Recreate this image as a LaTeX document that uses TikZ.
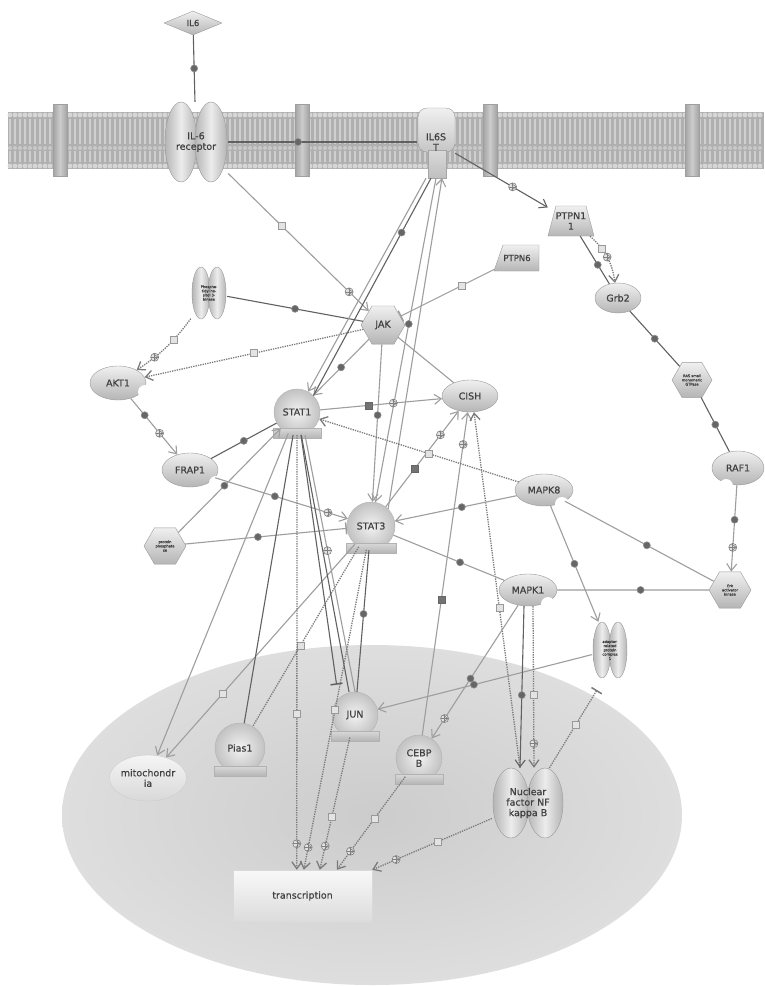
\documentclass[tikz,border=0pt]{standalone}
\usepackage{fontspec}
\setmainfont[FakeBold=0.6]{DejaVu Sans}
\usetikzlibrary{shapes.geometric,arrows.meta,calc}

% transcription-factor style node: ball with a base plate
\newcommand{\tfnode}[5]{%
  \node[tfball, minimum size=2*#4] (#1) at (#2,#3) {#5};
  \path[plate] (#2-#4-1,#3+#4-7) rectangle (#2+#4+1,#3+#4+3);
}
% two-lobed complex: [node options]{name}{x}{y}{lobe width}{height}{label}
\newcommand{\lobepair}[7][]{%
  \path[lobe] (#3-#5/2+1,#4) ellipse [x radius=#5/2, y radius=#6/2];
  \path[lobe] (#3+#5/2-1,#4) ellipse [x radius=#5/2, y radius=#6/2];
  \node[minimum width=2*#5, minimum height=#6, inner sep=0pt, #1] (#2) at (#3,#4) {#7};
}

\begin{document}
\begin{tikzpicture}[x=1pt,y=-1pt,
  every node/.style={font=\fontsize{9.5}{10.5}\selectfont, text=black!75, align=center},
  prot/.style={draw=black!40, top color=gray!12, bottom color=gray!58, inner sep=1pt},
  ellp/.style={prot, ellipse},
  hexa/.style={prot, regular polygon, regular polygon sides=6, inner sep=0pt},
  tfball/.style={circle, draw=black!30, inner color=gray!10, outer color=gray!48, inner sep=0pt},
  plate/.style={draw=black!30, top color=gray!30, bottom color=gray!58},
  lobe/.style={draw=black!40, left color=gray!58, right color=gray!58, middle color=gray!15},
  tinytxt/.style={font=\fontsize{3.6}{4.2}\selectfont},
  dk/.style={draw=black!62, line width=1.1pt},
  lt/.style={draw=black!38, line width=1.1pt},
  dt/.style={draw=black!52, line width=1.3pt, dash pattern=on 1.3pt off 1.1pt},
  arr/.style={-{Straight Barb[length=7pt,width=10pt]}},
  inh/.style={-{Bar[width=12pt,line width=1.5pt]}},
  markbase/.style={solid, line width=.6pt, inner sep=0pt},
  dotm/.style={markbase, circle, fill=black!60, draw=black!45, minimum size=7pt},
  sqm/.style={markbase, rectangle, fill=gray!22, draw=black!40, minimum size=7pt},
  sqd/.style={markbase, rectangle, fill=black!55, draw=black!60, minimum size=7pt},
  plm/.style={markbase, circle, fill=gray!22, draw=black!50, minimum size=8pt,
    path picture={\draw[black!50, line width=.6pt, solid]
      (path picture bounding box.north) -- (path picture bounding box.south)
      (path picture bounding box.west) -- (path picture bounding box.east);}},
]
\useasboundingbox (0,0) rectangle (764,986);
\fill[white] (0,0) rectangle (764,986);

% ---------- nucleus ----------
\shade[inner color=gray!40, outer color=gray!26] (372,815) ellipse [x radius=310, y radius=170];

% ---------- membrane ----------
\fill[gray!62] (8,112) rectangle (764,169);
\foreach \x in {10,15,...,762} {
  \draw[gray!38, line width=1.3pt] (\x,119) -- (\x,144);
  \draw[gray!38, line width=1.3pt] (\x,151) -- (\x,162);
  \fill[gray!32] (\x,115) circle (2.4);
  \fill[gray!42] (\x,148) circle (2.0);
  \fill[gray!32] (\x,166) circle (2.4);
}
\foreach \x in {60,302,490,692} {
  \path[draw=gray!75, left color=gray!72, right color=gray!72, middle color=gray!40]
    (\x-7,104) rectangle (\x+7,176);
}

% ---------- molecules ----------
\node[diamond, aspect=2.4, prot, minimum width=58, minimum height=24, inner sep=0pt,
      font=\fontsize{8.5}{9}\selectfont] (il6) at (193,23) {IL6};

\lobepair{il6r}{196}{142}{32}{80}{IL-6\\receptor}

\path[draw=black!40, top color=gray!12, bottom color=gray!45, rounded corners=9pt]
  (418,108) rectangle (455,152);
\path[draw=black!35, top color=gray!30, bottom color=gray!50] (428,150) rectangle (446,178);
\node[minimum width=38, minimum height=72, inner sep=0pt] (il6st) at (436,142) {IL6S\\T};

\path[prot] (548,236) -- (556,206) -- (586,206) -- (594,236) -- cycle;
\node[minimum width=46, minimum height=30, inner sep=0pt] (ptpn11) at (571,221) {PTPN1\\1};
\path[prot] (494,271) -- (503,245) -- (539,245) -- (539,271) -- cycle;
\node[minimum width=45, minimum height=26, inner sep=0pt, font=\fontsize{8.5}{9}\selectfont]
  (ptpn6) at (517,258) {PTPN6};

\node[ellp, minimum width=46, minimum height=30] (grb2) at (618,298) {Grb2};
\node[hexa, minimum size=40, tinytxt] (ras) at (692,380) {RAS small\\monomeric\\GTPase};

\node[ellp, minimum width=52, minimum height=34] (raf1) at (738,468) {RAF1};
\fill[white] (726,486) circle (7);

\node[hexa, minimum size=42, tinytxt] (erk) at (730,590) {Erk\\activator\\kinase};

\lobepair[tinytxt]{pi3k}{209}{293}{18}{52}{Phospha-\\tidylino-\\sitol 3-\\kinase}

\node[hexa, minimum size=44] (jak) at (383,325) {JAK};

\node[ellp, minimum width=56, minimum height=34] (akt1) at (118,383) {AKT1};
\fill[white] (145,392) circle (7);

\tfnode{stat1}{297}{412}{23}{STAT1}

\node[ellp, minimum width=56, minimum height=32] (cish) at (470,396) {CISH};

\node[ellp, minimum width=56, minimum height=34] (frap1) at (190,470) {FRAP1};
\fill[white] (216,483) circle (7);

\node[ellp, minimum width=58, minimum height=32] (mapk8) at (544,490) {MAPK8};
\fill[white] (562,504) circle (7);

\tfnode{stat3}{371}{526}{24}{STAT3}

\node[hexa, minimum size=42, tinytxt] (ppase) at (165,546) {protein\\phosphata\\se};

\node[ellp, minimum width=58, minimum height=32] (mapk1) at (528,590) {MAPK1};
\fill[white] (548,604) circle (7);

\lobepair[tinytxt]{apc}{610}{650}{18}{56}{adaptor-\\related\\protein\\complex\\1}

\tfnode{jun}{355}{715}{23}{JUN}
\tfnode{pias1}{240}{748}{25}{Pias1}
\tfnode{cebpb}{419}{758}{23}{CEBP\\B}

\node[ellipse, draw=black!20, top color=gray!8, bottom color=gray!30,
      minimum width=72, minimum height=46, inner sep=0pt] (mito) at (148,778) {mitochondr\\ia};

\lobepair{nfkb}{528}{803}{36}{70}{Nuclear\\factor NF\\kappa B}

\node[draw=gray!30, top color=gray!5, bottom color=gray!28, minimum width=139,
      minimum height=52, inner sep=0pt] (trans) at (302.5,896) {transcription};

\coordinate (barend) at (597,690);

% ---------- connectors ----------
\draw[dk] (il6) -- node[dotm]{} (il6r);
\draw[dk] (il6r) -- node[dotm,pos=.37]{} (il6st);
\draw[lt,arr] (il6r) -- node[sqm,pos=.38]{} node[plm,pos=.86]{} (jak);
\draw[dk,arr] (il6st) -- node[plm,pos=.62]{} (ptpn11);
\draw[dt,arr] (ptpn11) to[bend left=20] node[sqm,pos=.3]{} node[plm,pos=.5]{} (grb2);
\draw[dk] (ptpn11) -- node[dotm,pos=.6]{} (grb2);
\draw[dk] (grb2) -- node[dotm]{} (ras);
\draw[dk] (ras) -- node[dotm]{} (raf1);
\draw[lt,arr] (raf1) -- node[dotm,pos=.4]{} node[plm,pos=.72]{} (erk);
\draw[lt] (erk) -- node[dotm,pos=.45]{} (mapk8);
\draw[lt] (erk) -- node[dotm,pos=.45]{} (mapk1);
\draw[lt,inh] (ptpn6) -- node[sqm,pos=.35]{} (jak);

\draw[dt,arr] (pi3k) to[bend left=10] node[sqm,pos=.35]{} node[plm,pos=.72]{} (akt1);
\draw[dt,arr] (jak) -- node[sqm,pos=.5]{} (akt1);
\draw[dk] (pi3k) -- node[dotm,pos=.5]{} (jak);
\draw[lt,arr] (jak) -- node[dotm,pos=.5]{} (stat1);
\draw[lt] (jak) -- (cish);
\draw[lt,arr] (jak) -- node[dotm,pos=.45]{} (stat3);

\draw[lt,arr] ([xshift=-10]il6st.south) -- (stat1);
\draw[dk] ([xshift=-5]il6st.south) -- node[dotm,pos=.25]{} (stat1.north east);
\draw[lt,arr] (il6st.south) -- node[dotm,pos=.45]{} (stat3);
\draw[lt,arr] (stat3.north east) -- ([xshift=6]il6st.south);

\draw[lt,arr] (stat1) -- node[sqd,pos=.4]{} node[plm,pos=.6]{} (cish);
\draw[lt,arr] (stat3) -- node[sqd,pos=.4]{} node[plm,pos=.75]{} (cish);
\draw[lt,arr] (cebpb) -- node[sqd,pos=.42]{} node[plm,pos=.9]{} (cish);
\draw[dt,arr] ([xshift=-8]nfkb.north) -- node[sqm,pos=.45]{} ([xshift=4]cish.south);

\draw[dt,arr] (mapk8) -- node[sqm,pos=.45]{} (stat1);
\draw[lt,arr] (mapk8) -- node[dotm,pos=.45]{} (stat3);
\draw[lt,arr] (mapk8) -- node[dotm,pos=.5]{} (apc);

\draw[dk] (frap1) -- node[dotm]{} (stat1);
\draw[lt,arr] (frap1) -- node[dotm,pos=.45]{} node[plm,pos=.85]{} (stat3);
\draw[lt,arr] (akt1) -- node[dotm,pos=.3]{} node[plm,pos=.62]{} (frap1);
\draw[lt,arr] (ppase) -- node[dotm,pos=.45]{} (stat1);
\draw[lt,inh] (ppase) -- node[dotm,pos=.45]{} (stat3);
\draw[lt] (stat3) -- node[dotm,pos=.6]{} (mapk1);

\draw[lt,arr] (stat1) -- (mito);
\draw[lt,arr] (stat3) -- node[sqm,pos=.7]{} (mito);
\draw[dk] (stat1) -- (pias1);
\draw[dt] (stat3) -- node[sqm,pos=.55]{} (pias1);
\draw[dk] (stat1) -- ([xshift=-6]jun.north);
\draw[dk,inh,shorten >=14pt] ([xshift=4]stat1.south) -- (jun.north west);
\draw[lt] ([xshift=8]stat1.south) -- node[plm,pos=.45]{} (jun.north);
\draw[dk] (stat3) -- node[dotm,pos=.45]{} (jun);

\draw[lt,arr] (apc) -- node[dotm,pos=.55]{} (jun);
\draw[lt,arr] (mapk1) -- node[dotm,pos=.55]{} node[plm,pos=.85]{} (cebpb);
\draw[dk,arr] ([xshift=-4]mapk1.south) -- node[dotm,pos=.55]{} ([xshift=-8]nfkb.north);
\draw[dt,arr] ([xshift=5]mapk1.south) -- node[sqm,pos=.55]{} node[plm,pos=.85]{} ([xshift=6]nfkb.north);
\draw[dt,inh] (nfkb) -- node[sqm,pos=.55]{} (barend);

\draw[dt,arr] (stat1) -- node[sqm,pos=.64]{} node[plm,pos=.94]{} ([xshift=64]trans.north west);
\draw[dt,arr] (stat3) -- node[sqm,pos=.5]{} node[plm,pos=.93]{} ([xshift=71]trans.north west);
\draw[dt,arr] (jun) -- node[sqm,pos=.6]{} node[plm,pos=.82]{} ([xshift=87]trans.north west);
\draw[dt,arr] (cebpb) -- node[sqm,pos=.45]{} node[plm,pos=.8]{} ([xshift=104]trans.north west);
\draw[dt,arr] (nfkb) -- node[sqm,pos=.45]{} node[plm,pos=.8]{} (trans.north east);
\end{tikzpicture}
\end{document}
